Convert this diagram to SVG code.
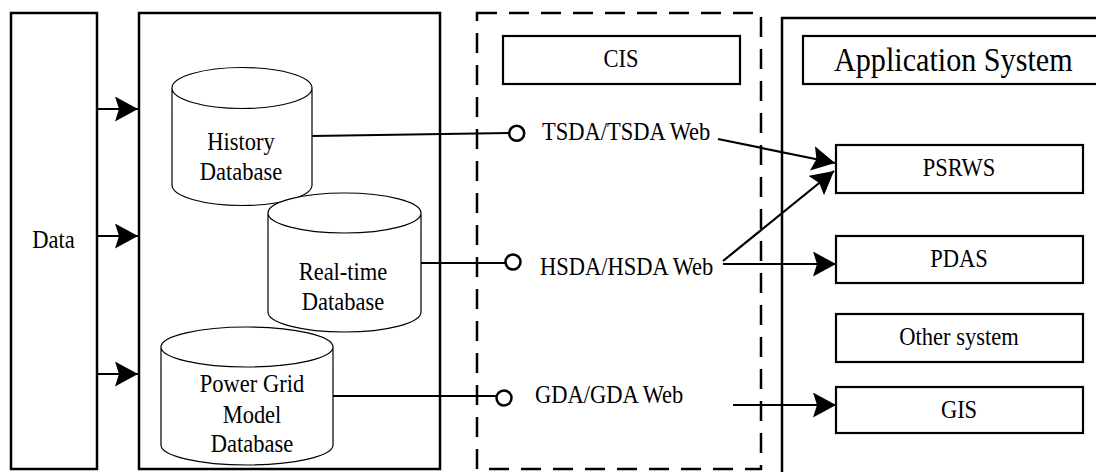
<svg xmlns="http://www.w3.org/2000/svg" width="1096" height="472" viewBox="0 0 1096 472">
<style>
text{font-family:"Liberation Serif","Times New Roman",serif;font-size:25px;fill:#000}
.c{text-anchor:middle}
.big{font-size:33.5px}
.box{fill:none;stroke:#000;stroke-width:2.5}
.ibox{fill:#fff;stroke:#000;stroke-width:2.2}
.cyl{fill:#fff;stroke:#000;stroke-width:1.2}
.ln{fill:none;stroke:#000;stroke-width:2.2}
.port{fill:#fff;stroke:#000;stroke-width:2.5}
</style>
<defs>
<marker id="ah" markerUnits="userSpaceOnUse" viewBox="0 0 24 26" markerWidth="24" markerHeight="26" refX="23" refY="12.5" orient="auto">
<path d="M0,0 L23,12.5 L0,25 L4,12.5 Z" fill="#000"/>
</marker>
</defs>
<rect width="1096" height="472" fill="#fff"/>

<g id="data">
<rect class="box" x="11" y="13" width="86" height="456"/>
<text class="c" transform="translate(53.5,248) scale(0.9,1)">Data</text>
</g>

<g id="db-container">
<rect class="box" x="139" y="13" width="301" height="456"/>
</g>

<g id="history-db">
<path class="cyl" d="M172,88 L172,185 A70,20.5 0 0,0 312,185 L312,88 A70,20.5 0 0,0 172,88 A70,20.5 0 0,0 312,88"/>
<text class="c" transform="translate(241,150) scale(0.9,1)">History</text>
<text class="c" transform="translate(241,180) scale(0.9,1)">Database</text>
</g>

<g id="realtime-db">
<path class="cyl" d="M268,213 L268,312 A76.5,20 0 0,0 421,312 L421,213 A76.5,20 0 0,0 268,213 A76.5,20 0 0,0 421,213"/>
<text class="c" transform="translate(343,280) scale(0.9,1)">Real-time</text>
<text class="c" transform="translate(343,310) scale(0.9,1)">Database</text>
</g>

<g id="powergrid-db">
<path class="cyl" d="M161,347 L161,445 A86,20 0 0,0 333,445 L333,347 A86,20 0 0,0 161,347 A86,20 0 0,0 333,347"/>
<text class="c" transform="translate(252,392) scale(0.9,1)">Power Grid</text>
<text class="c" transform="translate(252,423) scale(0.9,1)">Model</text>
<text class="c" transform="translate(252,452) scale(0.9,1)">Database</text>
</g>

<g id="cis-container">
<rect x="477" y="13" width="284" height="456" fill="none" stroke="#000" stroke-width="2.5" stroke-dasharray="20 12"/>
</g>

<g id="cis">
<rect class="ibox" x="503" y="36" width="237" height="48"/>
<text class="c" transform="translate(621,67) scale(0.9,1)">CIS</text>
</g>

<g id="tsda">
<text transform="translate(542,140) scale(0.9,1)">TSDA/TSDA Web</text>
</g>
<g id="hsda">
<text transform="translate(540,275) scale(0.9,1)">HSDA/HSDA Web</text>
</g>
<g id="gda">
<text transform="translate(535,403) scale(0.9,1)">GDA/GDA Web</text>
</g>

<g id="app-container">
<rect class="box" x="782" y="18" width="400" height="500"/>
</g>
<g id="app-title">
<rect class="ibox" x="803" y="36" width="400" height="48"/>
<text class="big" transform="translate(834,71) scale(0.9,1)">Application System</text>
</g>
<g id="psrws">
<rect class="ibox" x="836" y="145" width="247" height="48"/>
<text class="c" transform="translate(959,176) scale(0.9,1)">PSRWS</text>
</g>
<g id="pdas">
<rect class="ibox" x="836" y="236" width="247" height="47"/>
<text class="c" transform="translate(959,267) scale(0.9,1)">PDAS</text>
</g>
<g id="other">
<rect class="ibox" x="836" y="314" width="247" height="48"/>
<text class="c" transform="translate(959,345) scale(0.9,1)">Other system</text>
</g>
<g id="gis">
<rect class="ibox" x="836" y="387" width="247" height="46"/>
<text class="c" transform="translate(959,418) scale(0.9,1)">GIS</text>
</g>

<g id="connectors">
<path class="ln" d="M97,109 H138" marker-end="url(#ah)"/>
<path class="ln" d="M97,236 H138" marker-end="url(#ah)"/>
<path class="ln" d="M97,374 H138" marker-end="url(#ah)"/>
<path class="ln" d="M312,136 L509,133"/>
<circle class="port" cx="516.7" cy="133.3" r="7.5"/>
<path class="ln" d="M421,263 L507,263"/>
<circle class="port" cx="513" cy="262" r="7.5"/>
<path class="ln" d="M333,396 L498,396"/>
<circle class="port" cx="504" cy="398" r="7.5"/>
<path class="ln" d="M718,139 L835,163" marker-end="url(#ah)"/>
<path class="ln" d="M723,261 L834,171" marker-end="url(#ah)"/>
<path class="ln" d="M723,264 L836,264" marker-end="url(#ah)"/>
<path class="ln" d="M733,405 L836,405" marker-end="url(#ah)"/>
</g>
</svg>
